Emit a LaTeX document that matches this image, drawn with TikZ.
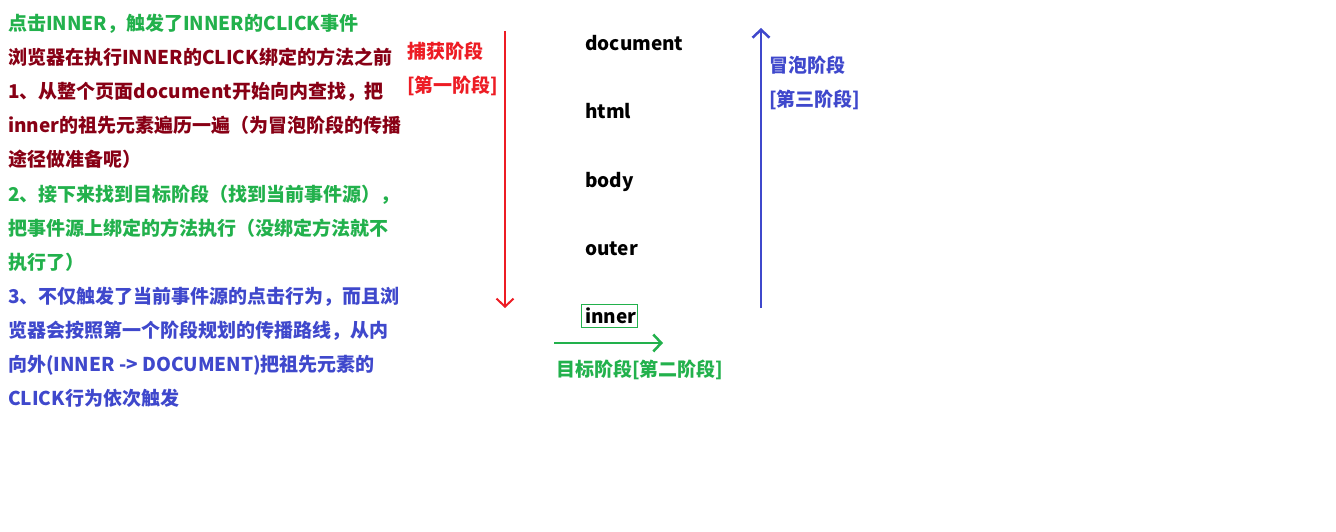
\documentclass[tikz,border=0pt]{standalone}
\usepackage{fontspec}
\setmainfont{Noto Sans CJK SC}
\usetikzlibrary{arrows.meta}
\definecolor{paintgreen}{HTML}{22B14C}
\definecolor{paintdarkred}{HTML}{880015}
\definecolor{paintblue}{HTML}{3F48CC}
\definecolor{paintred}{HTML}{ED1C24}

\begin{document}
\begin{tikzpicture}[
    x=1pt, y=-1pt,
    txt/.style={anchor=base west, inner sep=0pt, align=left,
                font=\fontsize{19}{34}\selectfont\bfseries},
    elem/.style={anchor=base west, inner sep=0pt,
                 font=\fontsize{19}{34}\selectfont\bfseries},
    phase/.style={line width=2.5pt, -{Straight Barb[length=8pt, width=17pt]}}
]
  \useasboundingbox[fill=white] (0,0) rectangle (1336,532);

  % explanation on the left (multi-line nodes sit on their last baseline)
  \node[txt, text=paintgreen] (intro) at (8,31) {点击INNER，触发了INNER的CLICK事件};
  \node[txt, text=paintdarkred] (stepone) at (8,167)
    {浏览器在执行INNER的CLICK绑定的方法之前\\
     1、从整个页面document开始向内查找，把\\
     inner的祖先元素遍历一遍（为冒泡阶段的传播\\
     途径做准备呢）};
  \node[txt, text=paintgreen] (steptwo) at (8,269)
    {2、接下来找到目标阶段（找到当前事件源），\\
     把事件源上绑定的方法执行（没绑定方法就不\\
     执行了）};
  \node[txt, text=paintblue] (stepthree) at (8,405)
    {3、不仅触发了当前事件源的点击行为，而且浏\\
     览器会按照第一个阶段规划的传播路线，从内\\
     向外(INNER -> DOCUMENT)把祖先元素的\\
     CLICK行为依次触发};

  % the element chain
  \node[elem] (document) at (585,51) {document};
  \node[elem] (html) at (585,119) {html};
  \node[elem] (body) at (585,187) {body};
  \node[elem] (outer) at (585,255) {outer};
  \node[elem] (inner) at (585,323) {inner};
  \draw[paintgreen, line width=0.8pt] (581,304) rectangle (637,327);

  % capture phase
  \node[txt, text=paintred] (capture) at (407,93) {捕获阶段\\{[}第一阶段]};
  \coordinate (capS) at (505,31);
  \coordinate (capE) at (505,308);
  \draw[phase, paintred, line width=2pt] (capS) -- (capE);

  % target phase
  \coordinate (tgtS) at (554,343);
  \coordinate (tgtE) at (663,343);
  \draw[phase, paintgreen] (tgtS) -- (tgtE);
  \node[txt, text=paintgreen] (target) at (556,376) {目标阶段[第二阶段]};

  % bubble phase
  \coordinate (bubS) at (761,308);
  \coordinate (bubE) at (761,28);
  \draw[phase, paintblue] (bubS) -- (bubE);
  \node[txt, text=paintblue] (bubble) at (769,107) {冒泡阶段\\{[}第三阶段]};
\end{tikzpicture}
\end{document}
